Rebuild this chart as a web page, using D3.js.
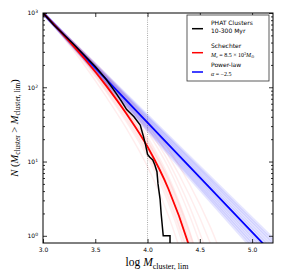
<!DOCTYPE html>
<meta charset="utf-8">
<body style="margin:0;background:#fff">
<svg id="chart" width="282" height="279"></svg>
</body>

<style>
text { font-family: "DejaVu Sans", sans-serif; }
.math { font-family: "Liberation Serif", serif; }
.tick line { stroke: #000; stroke-width: 0.8; }
.tick text { font-size: 6px; fill: #000; }
</style>

<script src="https://d3js.org/d3.v7.min.js"></script>
<script>

// PHAT clusters, cumulative counts
var blackLogM = [3.00, 3.05, 3.10, 3.20, 3.30, 3.40, 3.50, 3.60, 3.67, 3.75, 3.80, 3.87, 3.93, 3.96, 3.98, 4.00, 4.02, 4.05, 4.07, 4.09, 4.10, 4.12, 4.13, 4.15, 4.215, 4.215];
var blackN    = [1000, 840, 700, 510, 370, 265, 190, 130, 95, 65, 50, 40, 31, 22, 17, 12.5, 11.5, 10.5, 9, 7.3, 5, 3.1, 2, 1, 1, 0.5];

// best Schechter fit
var redLogM = [3.0, 3.2, 3.4, 3.6, 3.8, 4.0, 4.2, 4.4, 4.6];
var redN    = [1000, 501, 240, 107, 43.6, 15.8, 4.27, 0.71, 0.063];

// Schechter realisations (log N on the grid bandLogM)
var bandLogM = [3.0, 3.2, 3.4, 3.6, 3.8, 4.0, 4.2, 4.4, 4.6, 4.8];
var redBandLogN = [
  [3, 2.66, 2.29, 1.88, 1.44, 0.93, 0.27, -0.62, -1.8],
  [3, 2.68, 2.33, 1.95, 1.53, 1.06, 0.44, -0.40, -1.5],
  [3, 2.69, 2.35, 1.97, 1.56, 1.10, 0.50, -0.33, -1.5],
  [3, 2.69, 2.36, 1.99, 1.59, 1.13, 0.54, -0.28, -1.4],
  [3, 2.69, 2.37, 2.01, 1.62, 1.17, 0.59, -0.20, -1.3],
  [3, 2.70, 2.38, 2.02, 1.64, 1.19, 0.62, -0.16, -1.25],
  [3, 2.70, 2.38, 2.04, 1.66, 1.22, 0.66, -0.10, -1.2],
  [3, 2.70, 2.39, 2.05, 1.68, 1.27, 0.76, 0.05, -0.9],
  [3, 2.71, 2.40, 2.06, 1.68, 1.25, 0.70, -0.06, -1.1],
  [3, 2.71, 2.41, 2.08, 1.71, 1.29, 0.75, 0.00, -1.0],
  [3, 2.72, 2.42, 2.10, 1.74, 1.33, 0.80, 0.07, -0.9],
  [3, 2.71, 2.43, 2.12, 1.78, 1.40, 0.92, 0.28, -0.5],
  [3, 2.72, 2.44, 2.14, 1.82, 1.45, 1.00, 0.40, -0.35],
  [3, 2.73, 2.45, 2.16, 1.85, 1.50, 1.08, 0.55, -0.10, -0.9],
  [3, 2.73, 2.46, 2.18, 1.88, 1.55, 1.17, 0.70, 0.12, -0.6]
];

// best power-law fit
var blueLogM = [3.0, 3.5, 4.0, 4.5, 5.0, 5.2];
var blueN    = [1000, 183, 33.5, 6.1, 1.12, 0.57];

// power-law realisations: log N reached at log M = 5.2
var blueBandEndLogN = [-0.04, -0.08, -0.12, -0.17, -0.21, -0.26, -0.30, -0.34, -0.39, -0.43, -0.48];

var xTicks = [3.0, 3.5, 4.0, 4.5, 5.0];
var yTicks = [1, 10, 100, 1000];

var svg = d3.select("#chart"),
    pLeft = 43, pRight = 273, pTop = 13, pBottom = 243;

var x = d3.scaleLinear().domain([3.0, 5.2]).range([pLeft, pRight]);
var y = d3.scaleLog().domain([0.8, 1000]).range([pBottom, pTop]);

svg.append("clipPath").attr("id", "clip")
  .append("rect").attr("x", pLeft).attr("y", pTop).attr("width", pRight - pLeft).attr("height", pBottom - pTop);

var plot = svg.append("g").attr("clip-path", "url(#clip)");

var line = d3.line().x(d => x(d[0])).y(d => y(d[1]));
var curve = d3.line().x(d => x(d[0])).y(d => y(d[1])).curve(d3.curveMonotoneX);

// dotted line at log M = 4
plot.append("line")
    .attr("x1", x(4.0)).attr("x2", x(4.0)).attr("y1", pTop).attr("y2", pBottom)
    .attr("stroke", "#aaa").attr("stroke-width", 1).attr("stroke-dasharray", "1,1.2");

// blue band
plot.selectAll(".bband")
  .data(blueBandEndLogN)
  .enter().append("path")
    .attr("d", v => line([[3.0, 1000], [5.2, Math.pow(10, v)]]))
    .attr("fill", "none").attr("stroke", "#0000ff").attr("stroke-opacity", 0.1).attr("stroke-width", 3);

// red band
plot.selectAll(".rband")
  .data(redBandLogN)
  .enter().append("path")
    .attr("d", arr => curve(arr.map((v, i) => [bandLogM[i], Math.pow(10, v)])))
    .attr("fill", "none").attr("stroke", "#ff0000").attr("stroke-opacity", 0.07).attr("stroke-width", 1.5);

plot.append("path")
    .attr("d", line(blueLogM.map((m, i) => [m, blueN[i]])))
    .attr("fill", "none").attr("stroke", "#0000ff").attr("stroke-width", 1.8);

plot.append("path")
    .attr("d", curve(redLogM.map((m, i) => [m, redN[i]])))
    .attr("fill", "none").attr("stroke", "#ff0000").attr("stroke-width", 1.8);

plot.append("path")
    .attr("d", line(blackLogM.map((m, i) => [m, blackN[i]])))
    .attr("fill", "none").attr("stroke", "#000").attr("stroke-width", 1.5);

// AXES
var minor = [];
for (var e = 0; e < 3; e++) for (var k = 2; k < 10; k++) minor.push(k * Math.pow(10, e));

function axis(gen, tx, ty, vals, size, fmt) {
  var g = svg.append("g").attr("transform", "translate(" + tx + "," + ty + ")")
    .call(gen.tickValues(vals).tickSizeInner(-size).tickSizeOuter(0).tickPadding(fmt ? 5 : 0)
      .tickFormat(fmt || ""));
  g.select(".domain").remove();
  return g;
}

axis(d3.axisBottom(x), 0, pBottom, xTicks, 4, d3.format(".1f"));
axis(d3.axisTop(x), 0, pTop, xTicks, 4);
axis(d3.axisLeft(y), pLeft, 0, minor, 2);
axis(d3.axisRight(y), pRight, 0, minor, 2);
axis(d3.axisRight(y), pRight, 0, yTicks, 4);
var ya = axis(d3.axisLeft(y), pLeft, 0, yTicks, 4, d => d);

// 10^n labels
ya.selectAll("text").each(function(d) {
  var t = d3.select(this).text("");
  t.append("tspan").text("10");
  t.append("tspan").attr("dy", "-0.45em").style("font-size", "4.5px").text(Math.round(Math.log10(d)));
});

svg.append("rect")
    .attr("x", pLeft).attr("y", pTop).attr("width", pRight - pLeft).attr("height", pBottom - pTop)
    .attr("fill", "none").attr("stroke", "#000").attr("stroke-width", 1);

// axis titles
var xl = svg.append("text").attr("class", "math").attr("x", 157).attr("y", 266)
    .attr("text-anchor", "middle").style("font-size", "11.5px");
xl.append("tspan").text("log ");
xl.append("tspan").style("font-style", "italic").text("M");
xl.append("tspan").attr("dy", 2.5).style("font-size", "8px").text("cluster, lim");

var yl = svg.append("text").attr("class", "math")
    .attr("transform", "translate(18," + ((pTop + pBottom) / 2) + ") rotate(-90)")
    .attr("text-anchor", "middle").style("font-size", "10.5px");
yl.append("tspan").style("font-style", "italic").text("N");
yl.append("tspan").text(" (");
yl.append("tspan").style("font-style", "italic").text("M");
yl.append("tspan").attr("dy", 2.3).style("font-size", "7.3px").text("cluster");
yl.append("tspan").attr("dy", -2.3).text(" > ");
yl.append("tspan").style("font-style", "italic").text("M");
yl.append("tspan").attr("dy", 2.3).style("font-size", "7.3px").text("cluster, lim");
yl.append("tspan").attr("dy", -2.3).text(")");

// LEGEND
var lg = svg.append("g");
lg.append("rect").attr("x", 187).attr("y", 15).attr("width", 82).attr("height", 66)
    .attr("fill", "#fff").attr("stroke", "#333").attr("stroke-width", 0.8);

var legendColors = ["#000", "#ff0000", "#0000ff"];
var legendY = [28.7, 52.7, 72];
legendColors.forEach(function(c, i) {
  lg.append("line").attr("x1", 192).attr("x2", 203).attr("y1", legendY[i]).attr("y2", legendY[i])
    .attr("stroke", c).attr("stroke-width", 1.5);
});

function ltext(yy, str) {
  return lg.append("text").attr("x", 211).attr("y", yy).style("font-size", "6px").text(str);
}
ltext(25, "PHAT Clusters");
ltext(32.5, "10-300 Myr");
ltext(48, "Schechter");
ltext(67, "Power-law");

var m1 = lg.append("text").attr("class", "math").attr("x", 211).attr("y", 57).style("font-size", "6px");
m1.append("tspan").style("font-style", "italic").text("M");
m1.append("tspan").attr("dy", 1.2).style("font-size", "4px").style("font-style", "italic").text("c");
m1.append("tspan").attr("dy", -1.2).text(" = 8.5 × 10");
m1.append("tspan").attr("dy", -2.2).style("font-size", "4px").text("3");
m1.append("tspan").attr("dy", 2.2).style("font-style", "italic").text("M");
m1.append("tspan").attr("dy", 1.2).style("font-size", "4px").text("⊙");

var m2 = lg.append("text").attr("class", "math").attr("x", 211).attr("y", 75.5).style("font-size", "6px");
m2.append("tspan").style("font-style", "italic").text("α");
m2.append("tspan").text(" = −2.5");

</script>
